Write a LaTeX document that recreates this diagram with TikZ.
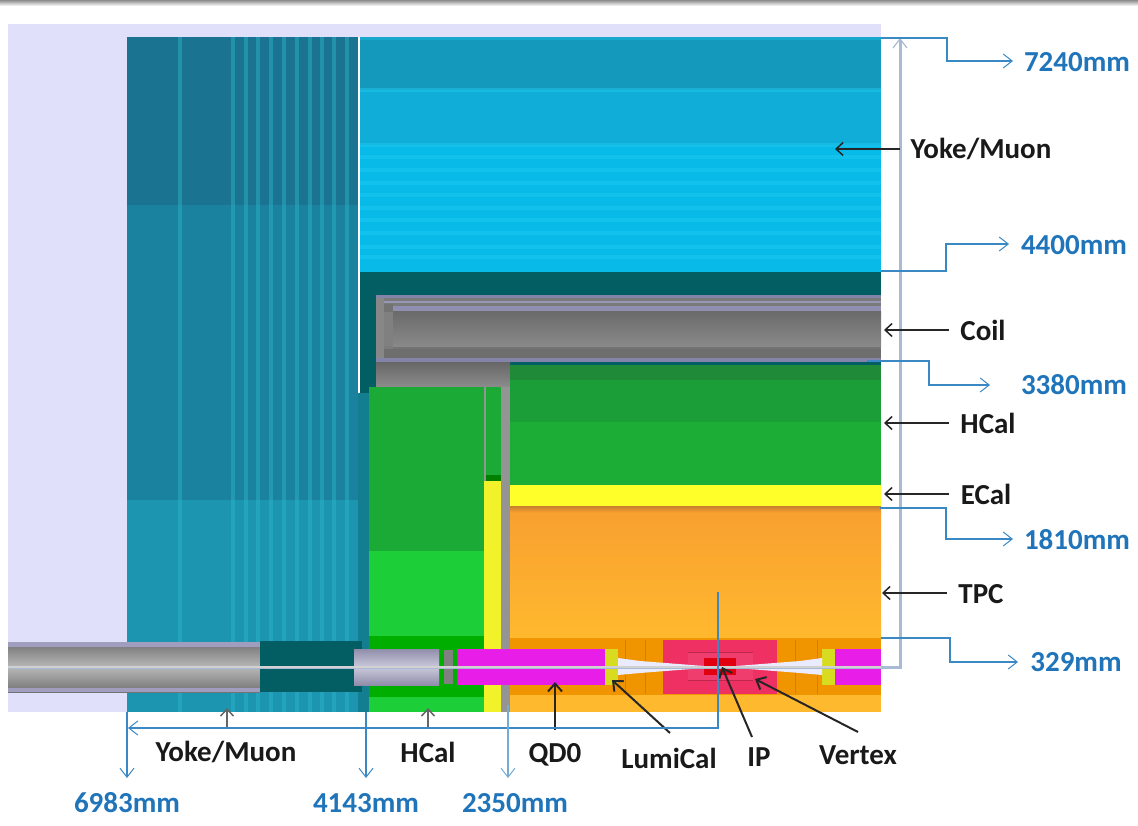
\documentclass[tikz,border=0pt]{standalone}
\usepackage{fontspec}
\setmainfont{Carlito}
\usetikzlibrary{arrows.meta}
\definecolor{lav}{HTML}{E0E0FA}
\definecolor{calloutblue}{HTML}{3A88C4}
\definecolor{textblue}{HTML}{1F74BA}
\definecolor{pipeblue}{HTML}{A9BAD4}
\definecolor{darkteal}{HTML}{035E64}
\definecolor{coilgrey}{HTML}{7C7C7C}
\definecolor{coillav}{HTML}{8483A8}
\definecolor{tubelav}{HTML}{A09DBE}
\definecolor{qdmag}{HTML}{E81EE8}
\definecolor{lumiyel}{HTML}{D8DC20}
\definecolor{pink}{HTML}{EE3062}
\definecolor{dorange}{HTML}{F09400}
\definecolor{lorange}{HTML}{FFB92E}
\definecolor{morange}{HTML}{F8A030}
\definecolor{torange}{HTML}{C88030}
\definecolor{y1}{HTML}{1A7390}
\definecolor{y2}{HTML}{1A819E}
\definecolor{y3}{HTML}{1C95B0}
\definecolor{y4}{HTML}{127E8F}
\definecolor{b1}{HTML}{1499BD}
\definecolor{b2}{HTML}{10ADD8}
\definecolor{b3}{HTML}{07BAE8}
\definecolor{b4}{HTML}{20CCF2}
\definecolor{h1}{HTML}{1BAA35}
\definecolor{h2}{HTML}{1CCF38}
\definecolor{h3}{HTML}{00AE00}
\definecolor{hb1}{HTML}{1F8A38}
\definecolor{hb2}{HTML}{1B9E38}
\definecolor{hb3}{HTML}{1BAD35}
\definecolor{ecal}{HTML}{FFFF2A}
\definecolor{ecap}{HTML}{F2F22A}
\definecolor{redcore}{HTML}{E00010}
\definecolor{stripecol}{HTML}{2CB8CC}
\tikzset{
  x=1pt,y=-1pt,
  callout/.style={draw=calloutblue,line width=1.1pt,-{Straight Barb[length=9pt,width=14pt,line width=1pt]}},
  lead/.style={draw=black!85,line width=1.5pt,-{Straight Barb[length=7pt,width=13pt,line width=1.5pt]}},
  leadthick/.style={draw=black!85,line width=2pt,-{Straight Barb[length=8pt,width=14pt,line width=2pt]}},
  lbl/.style={font=\fontsize{29}{29}\selectfont\bfseries,text=black!90,inner sep=0pt},
  dim/.style={font=\fontsize{29}{29}\selectfont\bfseries,text=textblue,inner sep=0pt},
  stripeV/.style={fill=#1,draw=none,opacity=.45},
  stripeH/.style={fill=#1,draw=none,opacity=.45},
}
\begin{document}
\begin{tikzpicture}
\useasboundingbox (0,0) rectangle (1138,826);
% top bar
\shade[top color=black!45,bottom color=white] (0,0) rectangle (1138,6);
% background
\fill[lav] (8,24) rectangle (881,712);
% endcap yoke
\fill[y1] (127,37) rectangle (358,205);
\fill[y2] (127,205) rectangle (358,500);
\fill[y3] (127,500) rectangle (358,712);
\fill[y4] (358,393) rectangle (369,712);
\foreach \sx in {180,233,246,258,271,284,297,310,322,334,347}{
  \fill[stripeV=stripecol] (\sx-1.7,37) rectangle (\sx+1.7,712);
}
% barrel yoke
\fill[b1] (359,37) rectangle (881,90);
\fill[b2] (359,90) rectangle (881,145);
\fill[b3] (359,145) rectangle (881,272);
\foreach \sy in {90,145,157,170,183,195,208,220,233,247,257}{
  \fill[stripeH=b4] (359,\sy-2) rectangle (881,\sy+2);
}
\fill[b1!70!b4] (359,37) rectangle (881,40);
% dark teal return
\fill[darkteal] (359,272) rectangle (881,393);
% coil
\fill[coilgrey] (376,295) rectangle (881,362);
\fill[coillav] (376,295) rectangle (881,298);
\fill[black!52] (384,298) rectangle (881,306);
\fill[coillav!85!white] (384,301) rectangle (881,303);
\fill[coillav!90!white] (393,306) rectangle (881,312);
\shade[top color=black!58,bottom color=black!46] (393,312) rectangle (881,347);
\fill[black!55] (393,347) rectangle (881,349);
\fill[black!57] (384,349) rectangle (881,358);
\fill[coillav] (376,358) rectangle (881,362);
\fill[black!47] (376,298) rectangle (384,358);
\fill[black!55] (384,304) rectangle (393,312);
\fill[black!50] (384,312) rectangle (393,346);
% support grey
\shade[top color=black!60,bottom color=black!45] (376,362) rectangle (510,387);
\fill[black!42] (484,387) rectangle (510,712);
% white edge of the barrel yoke
\fill[white] (358,37) rectangle (359.6,393);
% endcap HCal
\fill[h1] (369,387) rectangle (484,551);
\fill[h2] (369,551) rectangle (484,636);
\fill[h3] (369,636) rectangle (484,697);
\fill[h2] (369,697) rectangle (484,712);
\fill[h1] (486,387) rectangle (501,475);
\fill[green!50!black] (486,475) rectangle (501,481);
\fill[ecap] (484,481) rectangle (501,712);
% barrel HCal
\fill[hb1] (510,365) rectangle (881,380);
\fill[hb2] (510,380) rectangle (881,422);
\fill[hb3] (510,422) rectangle (881,485);
% ECal
\fill[ecal] (510,485) rectangle (881,506);
% TPC
\shade[top color=morange,bottom color=lorange] (510,512) rectangle (881,638);
\shade[top color=torange,bottom color=morange] (510,506) rectangle (881,512.5);
\fill[dorange] (510,638) rectangle (881,695);
\fill[lorange] (510,695) rectangle (881,712);
\foreach \sx in {625,645,795,817}{\draw[dorange!75!red,line width=.6pt] (\sx,640) -- (\sx,694);}
% vertex
\fill[pink] (663,640) rectangle (777,694);
\fill[pink!93!white] (688,652) rectangle (753,680);
\draw[pink!80!black,line width=1.5pt] (688,652.5) -- (753,652.5) (688,680.5) -- (753,680.5);
\fill[redcore] (704,658) rectangle (736,675);
% tubes
\shade[top color=black!55,bottom color=black!55,middle color=black!28] (8,642) rectangle (260,692);
\fill[tubelav] (8,642) rectangle (260,647);
\fill[tubelav] (8,688) rectangle (260,692);
\fill[darkteal] (260,641) rectangle (362,692);
\shade[top color=tubelav!90!black,bottom color=tubelav!90!black,middle color=tubelav!55!white] (354,649) rectangle (439,685);
\fill[black!50] (444,650) rectangle (453,684);
% QD0 and LumiCal
\fill[qdmag] (457,649) rectangle (605,685);
\fill[qdmag] (835,649) rectangle (881,685);
\fill[lumiyel] (605,649) rectangle (618,685);
\fill[lumiyel] (822,649) rectangle (835,685);
% beam pipe cones
\fill[white!92!blue] (618,658) -- (640,661) -- (704,666) -- (704,668) -- (640,673) -- (618,675) -- cycle;
\fill[white!92!blue] (822,658) -- (800,661) -- (736,666) -- (736,668) -- (800,673) -- (822,675) -- cycle;
% centre line of the beam pipe and its dimension
\coordinate (pipeStart) at (8,667);
\coordinate (pipeBend) at (900,667);
\coordinate (pipeEnd) at (900,38);
\draw[draw=pipeblue,line width=3pt,-{Straight Barb[length=9pt,width=14pt,line width=1.2pt]}] (pipeStart) -- (pipeBend) -- (pipeEnd);
\draw[black!18,line width=1.5pt] (8,667) -- (881,667);
% black labels
\node[lbl] (lYoke) at (981,149) {Yoke/Muon};
\node[lbl] (lCoil) at (983,330) {Coil};
\node[lbl] (lHCal) at (988,423) {HCal};
\node[lbl] (lECal) at (986,494) {ECal};
\node[lbl] (lTPC) at (981,594) {TPC};
\node[lbl] (lYokeB) at (226,752) {Yoke/Muon};
\node[lbl] (lHCalB) at (428,752) {HCal};
\node[lbl] (lQD) at (555,755) {QD0};
\node[lbl] (lLumi) at (669,758) {LumiCal};
\node[lbl] (lIP) at (759,757) {IP};
\node[lbl] (lVertex) at (858,755) {Vertex};
% targets
\coordinate (tYoke) at (835,149);
\coordinate (tCoil) at (884,330);
\coordinate (tHCal) at (884,423);
\coordinate (tECal) at (884,494);
\coordinate (tTPC) at (882,593);
\coordinate (tYokeB) at (227,708);
\coordinate (tHCalB) at (428,708);
\coordinate (tQD) at (555,682);
\coordinate (tLumi) at (612,680);
\coordinate (tIP) at (722,667);
\coordinate (tVertex) at (755,679);
\draw[lead] (900,149) -- (tYoke);
\draw[lead] (949,330) -- (tCoil);
\draw[lead] (949,423) -- (tHCal);
\draw[lead] (949,494) -- (tECal);
\draw[lead] (947,593) -- (tTPC);
\draw[lead,draw=black!60] (227,728) -- (tYokeB);
\draw[lead,draw=black!60] (428,728) -- (tHCalB);
\draw[leadthick] (555,730) -- (tQD);
\draw[leadthick] (670,733) -- (tLumi);
\draw[leadthick] (752,737) -- (tIP);
\draw[leadthick] (858,732) -- (tVertex);
% blue labels
\node[dim] (d7240) at (1077,62) {7240mm};
\node[dim] (d4400) at (1074,245) {4400mm};
\node[dim] (d3380) at (1074,385) {3380mm};
\node[dim] (d1810) at (1077,540) {1810mm};
\node[dim] (d329) at (1076,662) {329mm};
\node[dim] (d6983) at (127,803) {6983mm};
\node[dim] (d4143) at (366,803) {4143mm};
\node[dim] (d2350) at (515,803) {2350mm};
% callouts
\coordinate (s7240) at (881,38);
\coordinate (s4400) at (881,271);
\coordinate (s3380) at (867,361);
\coordinate (s1810) at (880,508);
\coordinate (s329) at (881,638);
\draw[callout] (s7240) -- (947,38) -- (947,61) -- (1013,61);
\draw[callout] (s4400) -- (946,271) -- (946,244) -- (1009,244);
\draw[callout] (s3380) -- (929,361) -- (929,385) -- (990,385);
\draw[callout] (s1810) -- (946,508) -- (946,539) -- (1013,539);
\draw[callout] (s329) -- (950,638) -- (950,662) -- (1018,662);
\coordinate (sZ) at (718,592);
\coordinate (eZ) at (128,728);
\draw[callout] (sZ) -- (718,728) -- (eZ);
\coordinate (s6983) at (127,712);
\coordinate (s4143) at (366,712);
\coordinate (s2350) at (508,705);
\draw[callout] (s6983) -- (127,778);
\draw[callout] (s4143) -- (366,778);
\draw[callout,draw=calloutblue!70] (s2350) -- (508,778);
\end{tikzpicture}
\end{document}
